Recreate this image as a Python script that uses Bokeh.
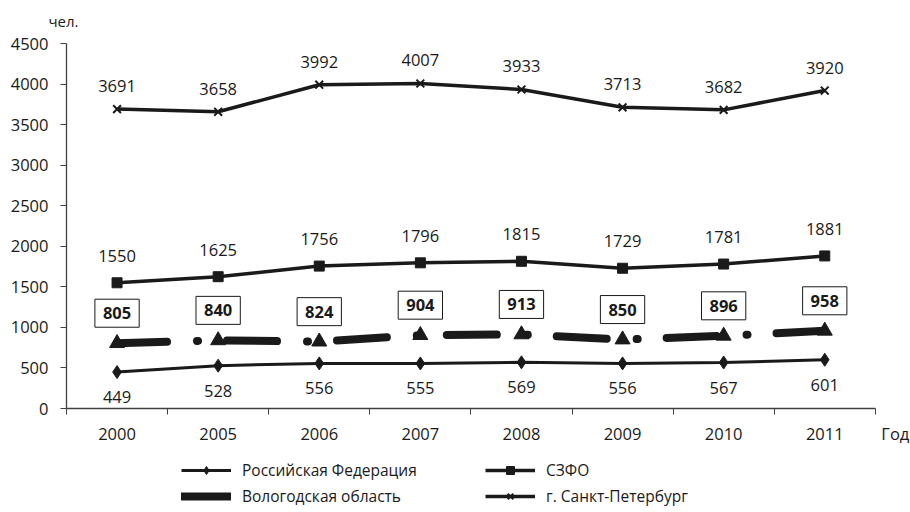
from bokeh.plotting import figure
from bokeh.models import Range1d, FixedTicker, Legend, LegendItem, Label
from bokeh.core.properties import value
from bokeh.embed import file_html
from bokeh.resources import INLINE

years = ["2000", "2005", "2006", "2007", "2008", "2009", "2010", "2011"]
rf = [449, 528, 556, 555, 569, 556, 567, 601]
szfo = [1550, 1625, 1756, 1796, 1815, 1729, 1781, 1881]
vologda = [805, 840, 824, 904, 913, 850, 896, 958]
spb = [3691, 3658, 3992, 4007, 3933, 3713, 3682, 3920]
names = ["Российская Федерация", "СЗФО", "Вологодская область", "г. Санкт-Петербург"]
y_ticks = list(range(0, 4501, 500))

FONT = "Open Sans"
FS = "16.5px"
INK = "#1a1a1a"

xs = list(range(len(years)))
n = len(years)

# Frame fills the canvas; axes sit at fixed locations inside it.
W, H = 910, 512
x0_px, px_per_cat = 66, 101.1            # where the left bound sits, width of a category
y0_px, y1_px = 408, 43                   # pixel rows of 0 and 4500
ymax = y_ticks[-1]
ppu = (y0_px - y1_px) / ymax
x_start = -0.5 - x0_px / px_per_cat
x_end = -0.5 + (W - x0_px) / px_per_cat
y_start = -(H - y0_px) / ppu
y_end = ymax + y1_px / ppu

p = figure(width=W, height=H, output_backend="svg", toolbar_location=None,
           x_range=Range1d(x_start, x_end), y_range=Range1d(y_start, y_end),
           min_border=0)
p.outline_line_color = None
p.xgrid.grid_line_color = None
p.ygrid.grid_line_color = None

xa, ya = p.xaxis[0], p.yaxis[0]
xa.fixed_location = 0
ya.fixed_location = -0.5
xa.bounds = (-0.5, n - 0.5)
ya.bounds = (0, ymax)
xa.ticker = FixedTicker(ticks=xs, minor_ticks=[i - 0.5 for i in range(n + 1)])
xa.major_label_overrides = {i: y for i, y in enumerate(years)}
xa.major_tick_in = 0
xa.major_tick_out = 0
xa.minor_tick_in = 0
xa.minor_tick_out = 6
xa.major_label_standoff = 13
ya.ticker = FixedTicker(ticks=y_ticks)
ya.major_tick_in = 0
ya.major_tick_out = 6
ya.minor_tick_out = 0
ya.major_label_standoff = 12
for ax in (xa, ya):
    ax.axis_line_color = "#404040"
    ax.axis_line_width = 1.3
    ax.major_tick_line_color = "#404040"
    ax.minor_tick_line_color = "#404040"
    ax.major_label_text_font = FONT
    ax.major_label_text_font_size = FS
    ax.major_label_text_color = INK

# series
r_rf_l = p.line(xs, rf, line_color=INK, line_width=3)
r_rf_m = p.scatter(xs, rf, marker="diamond", size=13, fill_color=INK, line_color=INK)
r_sz_l = p.line(xs, szfo, line_color=INK, line_width=3.5)
r_sz_m = p.scatter(xs, szfo, marker="square", size=10, fill_color=INK, line_color=INK)
r_vo_l = p.line(xs, vologda, line_color=INK, line_width=8, line_dash="50 30 1 29", line_cap="round")
r_vo_m = p.scatter(xs, vologda, marker="triangle", size=15, fill_color=INK, line_color=INK)
r_sp_l = p.line(xs, spb, line_color=INK, line_width=3.5)
r_sp_m = p.scatter(xs, spb, marker="x", size=11, line_color=INK, line_width=2)
# legend-only sample of the thick Vologda line (a single NaN point: draws nothing in the plot)
r_vo_key = p.line(xs[:1], [float("nan")], line_color=INK, line_width=8, line_cap="round")

# data labels
lab = dict(text_font=value(FONT), text_font_size=FS, text_color=INK,
           text_align="center", text_baseline="middle")
p.text(xs, spb, text=[str(v) for v in spb], y_offset=-23, **lab)
p.text(xs, szfo, text=[str(v) for v in szfo], y_offset=-27, **lab)
p.text(xs, rf, text=[str(v) for v in rf], y_offset=25, **lab)
p.text(xs, vologda, text=[str(v) for v in vologda], y_offset=-30, text_font_style="bold",
       border_line_color=INK, border_line_width=1, background_fill_color="white",
       padding=8, **lab)

# axis captions
p.add_layout(Label(x=-0.5, y=ymax, x_offset=-18, y_offset=23, text="чел.", text_font=FONT,
                   text_font_size="15px", text_align="left", text_baseline="middle",
                   text_color=INK))
p.add_layout(Label(x=n - 0.5, y=0, x_offset=6, y_offset=-25, text="Год", text_font=FONT,
                   text_font_size=FS, text_align="left", text_baseline="middle", text_color=INK))

legend = Legend(items=[
    LegendItem(label=names[0], renderers=[r_rf_l, r_rf_m]),
    LegendItem(label=names[1], renderers=[r_sz_l, r_sz_m]),
    LegendItem(label=names[2], renderers=[r_vo_key]),
    LegendItem(label=names[3], renderers=[r_sp_l, r_sp_m]),
], location=(181, 5), orientation="horizontal", ncols=2,
    glyph_width=50, glyph_height=20, label_standoff=11, label_width=239, spacing=4,
    padding=0, margin=0, border_line_color=None, background_fill_alpha=0,
    label_text_font=FONT, label_text_font_size="15.5px", label_text_color=INK)
p.add_layout(legend)

open("out.html", "w").write(file_html(p, INLINE))
